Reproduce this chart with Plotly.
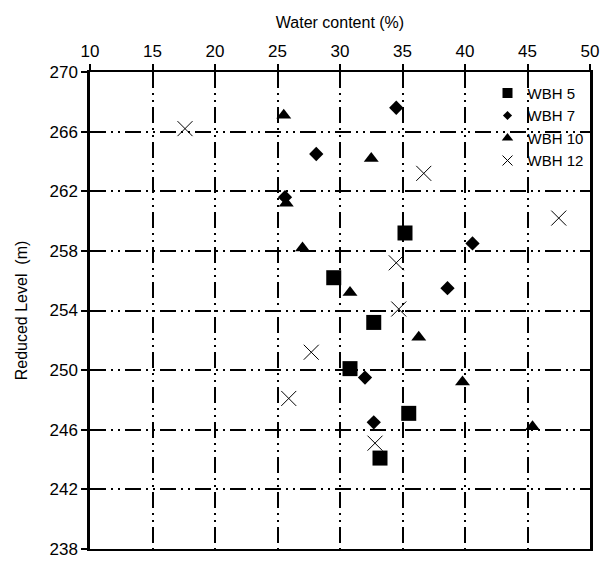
import plotly.graph_objects as go

# Data (Water content %, Reduced Level m)
wbh5_x = [35.2, 29.5, 32.7, 30.8, 35.5, 33.2]
wbh5_y = [259.2, 256.2, 253.2, 250.1, 247.1, 244.1]

wbh7_x = [34.5, 28.1, 25.6, 40.6, 38.6, 32.0, 32.7]
wbh7_y = [267.6, 264.5, 261.6, 258.5, 255.5, 249.5, 246.5]

wbh10_x = [25.5, 32.5, 25.7, 27.0, 30.8, 36.3, 39.8, 45.4]
wbh10_y = [267.1, 264.2, 261.2, 258.2, 255.2, 252.2, 249.2, 246.2]

wbh12_x = [17.6, 36.7, 47.5, 34.5, 34.7, 27.7, 25.9, 32.8]
wbh12_y = [266.2, 263.2, 260.2, 257.2, 254.1, 251.2, 248.1, 245.1]

x_ticks = [10, 15, 20, 25, 30, 35, 40, 45, 50]
y_ticks = [238, 242, 246, 250, 254, 258, 262, 266, 270]

series_names = ["WBH 5", "WBH 7", "WBH 10", "WBH 12"]

FONT = "Arial, Liberation Sans, sans-serif"

styles = [
    dict(symbol="square", size=15, color="black"),
    dict(symbol="diamond", size=11, color="black"),
    dict(symbol="triangle-up", size=13, color="black"),
    dict(symbol="x-thin-open", size=15, color="black", line=dict(width=1, color="black")),
]
legend_styles = [
    dict(symbol="square", size=10, color="black"),
    dict(symbol="diamond", size=7, color="black"),
    dict(symbol="triangle-up", size=10, color="black"),
    dict(symbol="x-thin-open", size=10, color="black", line=dict(width=1, color="black")),
]

fig = go.Figure()
for xs, ys, name, st, lst in zip([wbh5_x, wbh7_x, wbh10_x, wbh12_x],
                                 [wbh5_y, wbh7_y, wbh10_y, wbh12_y],
                                 series_names, styles, legend_styles):
    fig.add_trace(go.Scatter(x=xs, y=ys, mode="markers", name=name, legendgroup=name,
                             marker=st, showlegend=False))
    # small legend swatch
    fig.add_trace(go.Scatter(x=[None], y=[None], mode="markers", name=name, legendgroup=name,
                             marker=lst, showlegend=True, hoverinfo="skip"))

# helper trace so the inner-tick overlay axes are drawn
fig.add_trace(go.Scatter(x=[None], y=[None], xaxis="x2", yaxis="y2",
                         showlegend=False, hoverinfo="skip"))

grid_dash = "16px,5px,2px,5px,2px,5px"

fig.update_layout(
    width=611, height=563,
    margin=dict(l=79, r=29, t=64, b=15),
    paper_bgcolor="white", plot_bgcolor="white",
    font=dict(family=FONT, size=17, color="black"),
    showlegend=True,
    legend=dict(x=0.795, y=0.99, xanchor="left", yanchor="top",
                bgcolor="rgba(0,0,0,0)", font=dict(size=15),
                itemsizing="trace", tracegroupgap=0, itemwidth=30),
    xaxis=dict(
        side="top", range=[10, 50], tickvals=x_ticks, ticktext=[str(v) for v in x_ticks],
        showgrid=True, gridcolor="black", gridwidth=2, griddash=grid_dash,
        showline=True, linecolor="black", linewidth=2, mirror=True,
        ticks="outside", ticklen=6, tickwidth=2, tickcolor="black",
        zeroline=False,
        title=dict(text="Water content (%)", font=dict(size=16), standoff=10),
    ),
    yaxis=dict(
        range=[238, 270], tickvals=y_ticks, ticktext=[str(v) for v in y_ticks],
        showgrid=True, gridcolor="black", gridwidth=2, griddash=grid_dash,
        showline=True, linecolor="black", linewidth=2.5, mirror=True,
        ticks="outside", ticklen=6, tickwidth=2, tickcolor="black",
        zeroline=False,
        title=dict(text="Reduced Level  (m)", font=dict(size=16), standoff=18),
    ),
    xaxis2=dict(overlaying="x", side="top", range=[10, 50], tickvals=x_ticks,
                showticklabels=False, showgrid=False, zeroline=False,
                ticks="inside", ticklen=6, tickwidth=2, tickcolor="black", anchor="y"),
    yaxis2=dict(overlaying="y", side="left", range=[238, 270], tickvals=y_ticks,
                showticklabels=False, showgrid=False, zeroline=False,
                ticks="inside", ticklen=6, tickwidth=2, tickcolor="black", anchor="x"),
)

fig.write_html("out.html")
